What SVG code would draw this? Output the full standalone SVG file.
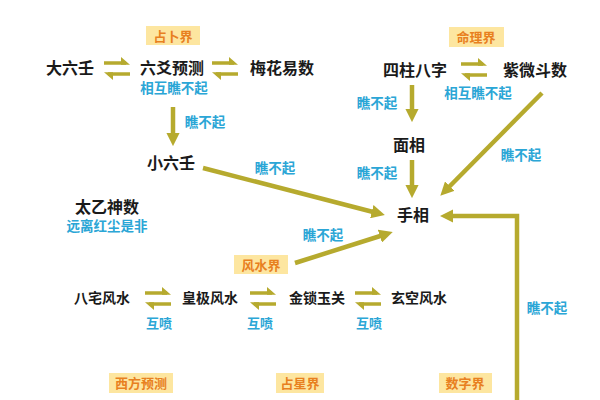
<svg xmlns="http://www.w3.org/2000/svg" xmlns:xlink="http://www.w3.org/1999/xlink" width="600" height="400" viewBox="0 0 600 400">
<style>
  text { font-family: "Liberation Sans", "Noto Sans CJK SC", sans-serif; dominant-baseline: central; text-anchor: middle; }
  .n { font-size: 16px; font-weight: bold; fill: #1a1a1a; }
  .n2 { font-size: 14px; font-weight: bold; fill: #1a1a1a; }
  .c { font-size: 13.5px; font-weight: bold; fill: #2ba6d6; }
  .c2 { font-size: 13px; font-weight: bold; fill: #2ba6d6; }
  .o { font-size: 13px; font-weight: bold; fill: #e8801f; }
  .ob { fill: #fde6a0; }
  .a { stroke: #b6aa2e; stroke-width: 4.5; fill: none; marker-end: url(#ah); }
  .h { stroke: #b6aa2e; stroke-width: 3.5; fill: none; }
  .hf { fill: #b6aa2e; }
</style>
<defs>
  <marker id="ah" viewBox="0 0 10 10" refX="4" refY="5" markerWidth="3" markerHeight="3" markerUnits="strokeWidth" orient="auto">
    <path d="M0,0 L10,5 L0,10 z" fill="#b6aa2e"/>
  </marker>
  <g id="dbl">
    <path class="h" d="M0,0 H22"/>
    <polygon class="hf" points="26,1.75 17,-6 17,1.75"/>
    <path class="h" d="M4,11 H26"/>
    <polygon class="hf" points="0,9.25 9,17 9,9.25"/>
  </g>
</defs>
<rect width="600" height="400" fill="#ffffff"/>

<g id="connectors">
  <use xlink:href="#dbl" transform="translate(104,63)"/>
  <use xlink:href="#dbl" transform="translate(212,63)"/>
  <use xlink:href="#dbl" transform="translate(461,64)"/>
  <use xlink:href="#dbl" transform="translate(145,293)"/>
  <use xlink:href="#dbl" transform="translate(250,293)"/>
  <use xlink:href="#dbl" transform="translate(355,293)"/>
  <line class="a" x1="173" y1="107" x2="173" y2="138"/>
  <line class="a" x1="203" y1="168" x2="377" y2="213"/>
  <line class="a" x1="295" y1="263" x2="385" y2="234.5"/>
  <line class="a" x1="412" y1="85" x2="412" y2="114"/>
  <line class="a" x1="412" y1="160" x2="412" y2="190"/>
  <line class="a" x1="542" y1="93" x2="446" y2="190"/>
  <polyline class="a" points="517,402 517,216 448,216"/>
  <text class="c" x="174" y="88">相互瞧不起</text>
  <text class="c" x="205" y="122">瞧不起</text>
  <text class="c" x="275" y="168">瞧不起</text>
  <text class="c" x="323" y="235">瞧不起</text>
  <text class="c" x="478" y="93">相互瞧不起</text>
  <text class="c" x="377" y="103">瞧不起</text>
  <text class="c" x="377" y="173">瞧不起</text>
  <text class="c" x="521" y="155">瞧不起</text>
  <text class="c" x="547" y="308">瞧不起</text>
  <text class="c2" x="159" y="323">互喷</text>
  <text class="c2" x="260" y="323">互喷</text>
  <text class="c2" x="369" y="323">互喷</text>
</g>

<g id="label-zhanbu"><rect class="ob" x="146" y="26" width="54" height="19"/><text class="o" x="173" y="36">占卜界</text></g>
<g id="label-mingli"><rect class="ob" x="449" y="27" width="55" height="20"/><text class="o" x="476" y="37">命理界</text></g>
<g id="label-fengshui"><rect class="ob" x="234" y="255" width="54" height="19"/><text class="o" x="261" y="265">风水界</text></g>
<g id="label-xifang"><rect class="ob" x="109" y="373" width="64" height="20"/><text class="o" x="141" y="383">西方预测</text></g>
<g id="label-zhanxing"><rect class="ob" x="276" y="373" width="48" height="20"/><text class="o" x="300" y="383">占星界</text></g>
<g id="label-shuzi"><rect class="ob" x="439" y="373" width="53" height="20"/><text class="o" x="465" y="383">数字界</text></g>

<g id="n-daliuren"><text class="n" x="70" y="68">大六壬</text></g>
<g id="n-liuyao"><text class="n" x="172" y="68">六爻预测</text></g>
<g id="n-meihua"><text class="n" x="282" y="68">梅花易数</text></g>
<g id="n-sizhu"><text class="n" x="415" y="70">四柱八字</text></g>
<g id="n-ziwei"><text class="n" x="535" y="70">紫微斗数</text></g>
<g id="n-mianxiang"><text class="n" x="409" y="145">面相</text></g>
<g id="n-xiaoliuren"><text class="n" x="171" y="163">小六壬</text></g>
<g id="n-taiyi"><text class="n" x="107" y="207">太乙神数</text><text class="c" x="107" y="226">远离红尘是非</text></g>
<g id="n-shouxiang"><text class="n" x="413" y="215">手相</text></g>
<g id="n-bazhai"><text class="n2" x="102" y="298">八宅风水</text></g>
<g id="n-huangji"><text class="n2" x="210" y="298">皇极风水</text></g>
<g id="n-jinsuo"><text class="n2" x="317" y="298">金锁玉关</text></g>
<g id="n-xuankong"><text class="n2" x="419" y="298">玄空风水</text></g>
</svg>
